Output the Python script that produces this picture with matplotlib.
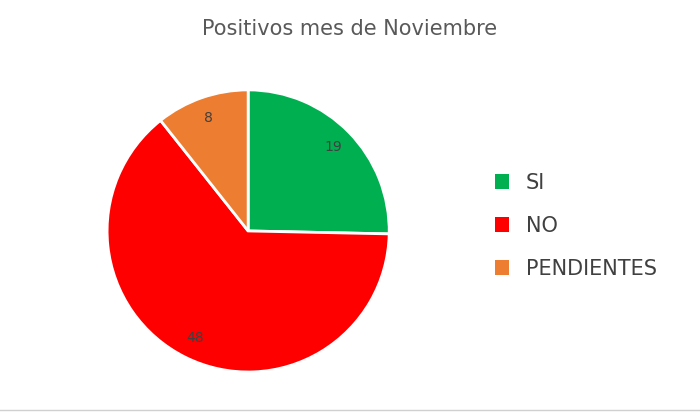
import matplotlib.pyplot as plt
from matplotlib.patches import Patch

# datos
categorias = ['SI', 'NO', 'PENDIENTES']
valores = [19, 48, 8]
colores = ['#00B050', '#FF0000', '#ED7D31']

fig = plt.figure(figsize=(7, 4.18), dpi=100)
ax = fig.add_axes([0.153, 0.110, 0.403, 0.675])

wedges, textos, autotextos = ax.pie(
    valores, colors=colores, startangle=90, counterclock=False,
    autopct=lambda p: f'{round(p * sum(valores) / 100):d}', pctdistance=0.85,
    wedgeprops=dict(edgecolor='white', linewidth=2),
    textprops=dict(color='#404040', fontsize=10))
ax.set_xlim(-1.0, 1.0)
ax.set_ylim(-1.0, 1.0)
ax.set_aspect('equal')

fig.text(0.5, 0.93, 'Positivos mes de Noviembre', ha='center', va='center',
         fontsize=15, color='#595959')

handles = [Patch(facecolor=c, label=l) for c, l in zip(colores, categorias)]
fig.legend(handles=handles, loc='center left', bbox_to_anchor=(0.68, 0.46),
           frameon=False, fontsize=15, handlelength=0.7, handleheight=0.7,
           labelspacing=1.1, labelcolor='#404040')

fig.add_artist(plt.Line2D([0, 1], [0.02, 0.02], color='#D0D0D0', linewidth=1))

fig.savefig('out.png', dpi=100)
